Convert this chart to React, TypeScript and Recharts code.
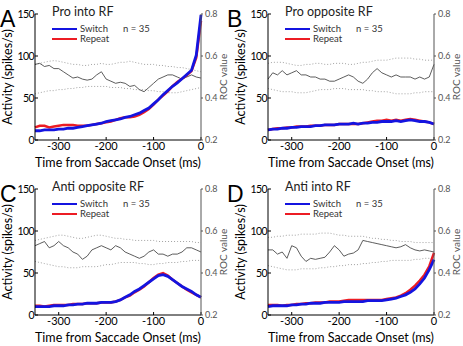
import React from 'react';
import { ComposedChart, Line, XAxis, YAxis } from 'recharts';

const FONT = "Lato, 'Open Sans', sans-serif";

// time bins (ms from saccade onset)
const TIMES = [
  -350, -340, -330, -320, -310, -300, -290, -280, -270, -260, -250, -240,
  -230, -220, -210, -200, -190, -180, -170, -160, -150, -140, -130, -120,
  -110, -100, -90, -80, -70, -60, -50, -40, -30, -20, -10, 0,
];
const X_TICKS = [-300, -200, -100, 0];
const ACT_TICKS = [0, 50, 100, 150];
const ROC_TICKS = [0.2, 0.4, 0.6, 0.8];

// A - Pro into RF
const SWITCH_A = [11, 11, 12, 12, 12, 13, 13, 14, 14, 15, 16, 17, 18, 19, 20, 22, 23, 24, 25, 27, 28, 30, 32, 35, 38, 43, 48, 54, 59, 64, 68, 73, 78, 83, 101, 149];
const REPEAT_A = [15, 17, 17, 15, 16, 17, 18, 18, 18, 17, 17, 17, 18, 19, 20, 21, 22, 24, 26, 27, 27, 28, 30, 33, 37, 42, 48, 53, 58, 64, 69, 73, 77, 82, 98, 142];
const ROC_A = [0.56, 0.565, 0.55, 0.555, 0.54, 0.54, 0.525, 0.51, 0.495, 0.5, 0.49, 0.485, 0.49, 0.51, 0.525, 0.49, 0.48, 0.47, 0.475, 0.47, 0.455, 0.46, 0.44, 0.43, 0.45, 0.47, 0.49, 0.5, 0.51, 0.51, 0.5, 0.49, 0.5, 0.51, 0.5, 0.495];
const UPPER_A = [0.56, 0.565, 0.57, 0.575, 0.578, 0.575, 0.57, 0.565, 0.56, 0.56, 0.555, 0.555, 0.56, 0.56, 0.565, 0.56, 0.56, 0.565, 0.57, 0.57, 0.575, 0.57, 0.565, 0.56, 0.56, 0.56, 0.555, 0.555, 0.55, 0.55, 0.545, 0.545, 0.54, 0.535, 0.53, 0.525];
const LOWER_A = [0.42, 0.425, 0.43, 0.435, 0.435, 0.44, 0.44, 0.445, 0.445, 0.45, 0.45, 0.455, 0.455, 0.455, 0.455, 0.455, 0.45, 0.45, 0.45, 0.445, 0.445, 0.44, 0.44, 0.44, 0.435, 0.435, 0.43, 0.43, 0.425, 0.425, 0.425, 0.43, 0.435, 0.44, 0.445, 0.45];

// B - Pro opposite RF
const SWITCH_B = [12, 13, 13, 14, 14, 15, 15, 16, 16, 16, 17, 17, 18, 18, 18, 19, 19, 19, 20, 19, 20, 20, 21, 21, 22, 22, 22, 23, 22, 23, 24, 23, 22, 22, 21, 19];
const REPEAT_B = [12, 13, 14, 14, 15, 15, 16, 16, 16, 17, 17, 17, 18, 18, 18, 19, 19, 19, 19, 19, 20, 21, 22, 23, 23, 24, 23, 24, 23, 24, 25, 24, 23, 22, 21, 19];
const ROC_B = [0.49, 0.52, 0.51, 0.53, 0.51, 0.52, 0.53, 0.51, 0.51, 0.5, 0.5, 0.49, 0.49, 0.48, 0.48, 0.49, 0.5, 0.51, 0.5, 0.48, 0.47, 0.49, 0.52, 0.54, 0.52, 0.51, 0.5, 0.51, 0.5, 0.5, 0.5, 0.49, 0.5, 0.49, 0.5, 0.56];
const UPPER_B = [0.565, 0.57, 0.57, 0.57, 0.565, 0.56, 0.555, 0.555, 0.56, 0.56, 0.565, 0.565, 0.56, 0.56, 0.565, 0.565, 0.565, 0.56, 0.56, 0.565, 0.57, 0.57, 0.575, 0.58, 0.58, 0.58, 0.585, 0.59, 0.59, 0.59, 0.59, 0.585, 0.585, 0.58, 0.58, 0.58];
const LOWER_B = [0.445, 0.44, 0.435, 0.43, 0.43, 0.43, 0.425, 0.425, 0.425, 0.43, 0.435, 0.44, 0.44, 0.44, 0.445, 0.445, 0.445, 0.44, 0.44, 0.44, 0.44, 0.435, 0.435, 0.43, 0.43, 0.43, 0.425, 0.42, 0.42, 0.42, 0.42, 0.425, 0.425, 0.43, 0.43, 0.43];

// C - Anti opposite RF
const SWITCH_C = [10, 10, 10, 10, 11, 11, 11, 12, 12, 13, 13, 14, 14, 14, 15, 15, 15, 16, 18, 21, 24, 28, 31, 35, 39, 43, 47, 48, 46, 42, 38, 34, 31, 28, 24, 21];
const REPEAT_C = [11, 11, 10, 11, 12, 12, 12, 12, 13, 13, 13, 14, 14, 14, 15, 15, 15, 16, 18, 21, 23, 27, 30, 34, 39, 44, 48, 50, 47, 42, 38, 34, 30, 27, 24, 21];
const ROC_C = [0.53, 0.54, 0.55, 0.52, 0.53, 0.55, 0.53, 0.52, 0.5, 0.49, 0.465, 0.48, 0.51, 0.52, 0.53, 0.52, 0.51, 0.53, 0.52, 0.5, 0.49, 0.48, 0.47, 0.48, 0.5, 0.51, 0.49, 0.49, 0.48, 0.49, 0.49, 0.5, 0.52, 0.52, 0.51, 0.5];
const UPPER_C = [0.555, 0.56, 0.565, 0.57, 0.575, 0.58, 0.58, 0.575, 0.57, 0.565, 0.565, 0.57, 0.575, 0.58, 0.58, 0.575, 0.57, 0.565, 0.565, 0.56, 0.56, 0.555, 0.555, 0.555, 0.555, 0.555, 0.55, 0.55, 0.55, 0.55, 0.55, 0.55, 0.55, 0.55, 0.545, 0.545];
const LOWER_C = [0.455, 0.45, 0.445, 0.44, 0.435, 0.43, 0.43, 0.425, 0.425, 0.425, 0.43, 0.43, 0.43, 0.43, 0.435, 0.44, 0.44, 0.445, 0.45, 0.45, 0.45, 0.45, 0.445, 0.445, 0.44, 0.44, 0.445, 0.445, 0.45, 0.45, 0.45, 0.455, 0.455, 0.46, 0.46, 0.46];

// D - Anti into RF
const SWITCH_D = [10, 11, 11, 11, 11, 12, 12, 13, 13, 14, 14, 14, 15, 15, 15, 15, 16, 16, 16, 16, 16, 17, 17, 17, 17, 18, 19, 20, 22, 24, 27, 31, 37, 44, 54, 66];
const REPEAT_D = [12, 12, 12, 11, 12, 12, 13, 13, 14, 14, 15, 15, 15, 16, 16, 16, 17, 18, 18, 18, 18, 18, 18, 18, 18, 19, 20, 21, 23, 26, 30, 35, 41, 48, 58, 74];
const ROC_D = [0.51, 0.51, 0.49, 0.5, 0.47, 0.53, 0.52, 0.48, 0.455, 0.47, 0.465, 0.47, 0.475, 0.5, 0.53, 0.51, 0.48, 0.49, 0.495, 0.51, 0.555, 0.55, 0.545, 0.54, 0.535, 0.53, 0.525, 0.52, 0.525, 0.535, 0.52, 0.51, 0.505, 0.51, 0.505, 0.5];
const UPPER_D = [0.57, 0.57, 0.575, 0.575, 0.58, 0.58, 0.58, 0.585, 0.585, 0.585, 0.585, 0.59, 0.59, 0.59, 0.585, 0.58, 0.58, 0.575, 0.575, 0.575, 0.575, 0.57, 0.565, 0.565, 0.56, 0.56, 0.555, 0.555, 0.55, 0.55, 0.55, 0.545, 0.545, 0.545, 0.545, 0.545];
const LOWER_D = [0.435, 0.43, 0.425, 0.42, 0.415, 0.415, 0.415, 0.42, 0.42, 0.42, 0.42, 0.425, 0.425, 0.43, 0.43, 0.435, 0.435, 0.44, 0.44, 0.44, 0.445, 0.445, 0.45, 0.45, 0.455, 0.455, 0.46, 0.46, 0.46, 0.46, 0.46, 0.465, 0.465, 0.47, 0.47, 0.47];

const N_LABEL = 'n = 35';

const PANELS = [
  { letter: 'A', title: 'Pro into RF', sw: SWITCH_A, rep: REPEAT_A, roc: ROC_A, hi: UPPER_A, lo: LOWER_A },
  { letter: 'B', title: 'Pro opposite RF', sw: SWITCH_B, rep: REPEAT_B, roc: ROC_B, hi: UPPER_B, lo: LOWER_B },
  { letter: 'C', title: 'Anti opposite RF', sw: SWITCH_C, rep: REPEAT_C, roc: ROC_C, hi: UPPER_C, lo: LOWER_C },
  { letter: 'D', title: 'Anti into RF', sw: SWITCH_D, rep: REPEAT_D, roc: ROC_D, hi: UPPER_D, lo: LOWER_D },
];

// panel boxes: left, top, width
const BOXES = [
  { left: 0, top: 0, w: 232 },
  { left: 233, top: 0, w: 230 },
  { left: 0, top: 175, w: 232 },
  { left: 233, top: 175, w: 230 },
];
const H = 172;
const LEFT_W = 35;
const PLOT_W = 166;

const BLUE = '#1414e0';
const RED = '#ec1c24';

const SERIES = [
  { name: 'Switch', color: BLUE },
  { name: 'Repeat', color: RED },
];

function KeyBox() {
  return (
    <div style={{ position: 'absolute', left: 52, top: 24, fontFamily: FONT, fontSize: 9.5, color: '#333', lineHeight: '10px', whiteSpace: 'nowrap' }}>
      {SERIES.map((s, i) => (
        <div key={s.name} style={{ display: 'flex', alignItems: 'center', height: 10 }}>
          <span style={{ display: 'inline-block', width: 25, height: 0, borderTop: `2.5px solid ${s.color}`, marginRight: 3 }} />
          <span>{s.name}</span>
          {i === 0 && <span style={{ marginLeft: 15 }}>{N_LABEL}</span>}
        </div>
      ))}
    </div>
  );
}

function Panel({ p, box }: { p: any; box: any }) {
  const data = TIMES.map((t, i) => ({ t, sw: p.sw[i], rep: p.rep[i], roc: p.roc[i], hi: p.hi[i], lo: p.lo[i] }));
  const rightW = box.w - LEFT_W - PLOT_W;
  return (
    <div style={{ position: 'absolute', left: box.left, top: box.top, width: box.w, height: H }}>
      <ComposedChart width={box.w} height={H} data={data} margin={{ top: 14, right: 0, left: 0, bottom: 0 }}>
        <XAxis
          dataKey="t"
          type="number"
          domain={[-350, 0]}
          ticks={X_TICKS}
          height={32}
          stroke="#000"
          tickSize={-3}
          tickMargin={5}
          tick={{ fontSize: 11, fill: '#000', fontFamily: FONT }}
          label={{ value: 'Time from Saccade Onset (ms)', position: 'insideBottom', offset: 5, fontSize: 12.5, fill: '#000', fontFamily: FONT }}
        />
        <YAxis
          yAxisId="act"
          domain={[0, 150]}
          ticks={ACT_TICKS}
          width={LEFT_W}
          stroke="#000"
          tickSize={-3}
          tickMargin={4}
          tick={{ fontSize: 10.5, fill: '#000', fontFamily: FONT, letterSpacing: -0.6 }}
          label={{
            content: (lp: any) => {
              const vb = lp.viewBox;
              const cx = vb.x + 7;
              const cy = vb.y + vb.height / 2;
              return (
                <text x={cx} y={cy} transform={`rotate(-90 ${cx} ${cy})`} textAnchor="middle" dominantBaseline="central" fontSize={12.5} fontFamily={FONT} fill="#000">
                  Activity (spikes/s)
                </text>
              );
            },
          }}
        />
        <YAxis
          yAxisId="roc"
          orientation="right"
          domain={[0.2, 0.8]}
          ticks={ROC_TICKS}
          width={rightW}
          stroke="#555"
          tickSize={2}
          tickMargin={2}
          tickFormatter={(v: number) => v.toFixed(1)}
          tick={{ fontSize: 9, fill: '#555', fontFamily: FONT }}
          label={{
            content: (lp: any) => {
              const vb = lp.viewBox;
              const cx = vb.x + 22;
              const cy = vb.y + vb.height / 2;
              return (
                <text x={cx} y={cy} transform={`rotate(-90 ${cx} ${cy})`} textAnchor="middle" dominantBaseline="central" fontSize={10} fontFamily={FONT} fill="#555">
                  ROC value
                </text>
              );
            },
          }}
        />
        <Line yAxisId="roc" dataKey="hi" stroke="#8a8a8a" strokeWidth={0.8} strokeDasharray="1 2" dot={false} isAnimationActive={false} />
        <Line yAxisId="roc" dataKey="lo" stroke="#8a8a8a" strokeWidth={0.8} strokeDasharray="1 2" dot={false} isAnimationActive={false} />
        <Line yAxisId="roc" dataKey="roc" stroke="#333" strokeWidth={0.8} dot={false} isAnimationActive={false} />
        <Line yAxisId="act" dataKey="rep" name="Repeat" stroke={RED} strokeWidth={2.5} dot={false} isAnimationActive={false} />
        <Line yAxisId="act" dataKey="sw" name="Switch" stroke={BLUE} strokeWidth={2.8} dot={false} isAnimationActive={false} />
      </ComposedChart>
      <div style={{ position: 'absolute', left: 52, top: 4, fontFamily: FONT, fontSize: 12.5, color: '#222', whiteSpace: 'nowrap' }}>{p.title}</div>
      <KeyBox />
    </div>
  );
}

export default function App() {
  return (
    <div style={{ position: 'absolute', left: 0, top: 0, width: 463, height: 346, background: '#fff', overflow: 'hidden' }}>
      {PANELS.map((p, i) => (
        <Panel key={p.letter} p={p} box={BOXES[i]} />
      ))}
      {PANELS.map((p, i) => (
        <div
          key={`L${p.letter}`}
          style={{ position: 'absolute', left: BOXES[i].left + (i % 2 === 1 ? -6 : 0), top: BOXES[i].top + 6, fontFamily: "'Liberation Sans', Arial, sans-serif", fontSize: 23, lineHeight: '26px', color: '#000' }}
        >
          {p.letter}
        </div>
      ))}
    </div>
  );
}
